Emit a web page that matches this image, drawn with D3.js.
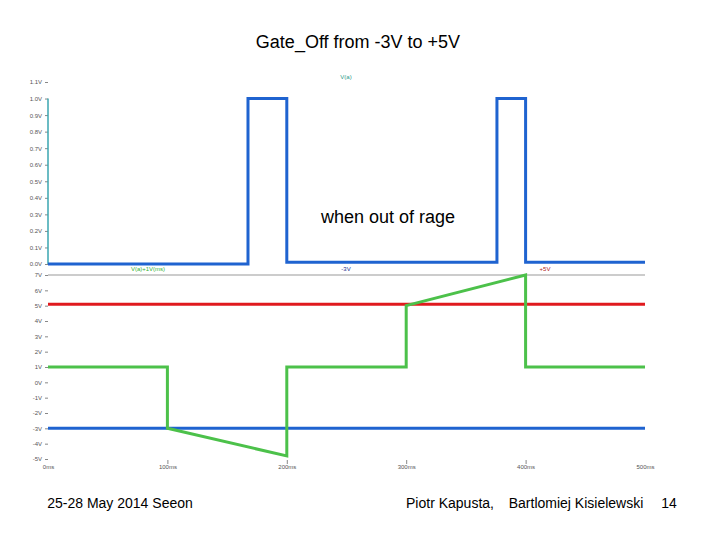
<!DOCTYPE html>
<html>
<head>
<meta charset="utf-8">
<script src="https://cdn.jsdelivr.net/npm/d3@7"></script>
<style>
  body { margin: 0; background: #fff; }
  text { font-family: "Liberation Sans", Arial, sans-serif; }
</style>
</head>
<body>
<div id="wrapper"></div>
<script>
// time axis (ms)
const timeTicks = [0, 100, 200, 300, 400, 500]
const topTicks = [1.1, 1.0, 0.9, 0.8, 0.7, 0.6, 0.5, 0.4, 0.3, 0.2, 0.1, 0.0]
const botTicks = [7, 6, 5, 4, 3, 2, 1, 0, -1, -2, -3, -4, -5]

// top pane: V(a)
const topTime = [0, 167.5, 167.5, 200, 200, 376, 376, 400, 400, 500]
const topVolt = [0, 0, 1, 1, 0.01, 0.01, 1, 1, 0.01, 0.01]

// lower pane
const greenTime = [0, 100, 100, 200, 200, 300, 300, 400, 400, 500]
const greenVolt = [1, 1, -3, -4.8, 1, 1, 5, 7, 1, 1]
const redTime = [0, 500]
const redVolt = [5.1, 5.1]
const blueTime = [0, 500]
const blueVolt = [-3, -3]

const width = 720
const height = 540

const svg = d3.select("#wrapper")
    .append("svg")
    .attr("width", width)
    .attr("height", height)

const xScale = d3.scaleLinear().domain([0, 500]).range([48, 645])
const yTop = d3.scaleLinear().domain([0, 1.1]).range([264, 82])
const yBot = d3.scaleLinear().domain([-5, 7]).range([459, 275])

// title
svg.append("text")
    .attr("x", 358).attr("y", 48)
    .attr("text-anchor", "middle")
    .style("font-size", "18px")
    .text("Gate_Off from -3V to +5V")

// axes
const yTopAxis = svg.append("g")
    .attr("transform", "translate(48,0)")
    .call(d3.axisLeft(yTop).tickValues(topTicks).tickSize(3)
        .tickFormat(d => d3.format(".1f")(d) + "V"))
const yBotAxis = svg.append("g")
    .attr("transform", "translate(48,0)")
    .call(d3.axisLeft(yBot).tickValues(botTicks).tickSize(3)
        .tickFormat(d => d + "V"))
const xAxis = svg.append("g")
    .attr("transform", "translate(0,460)")
    .call(d3.axisBottom(xScale).tickValues(timeTicks).tickSize(4)
        .tickFormat(d => d + "ms"))

;[yTopAxis, yBotAxis, xAxis].forEach(a => {
    a.select(".domain").remove()
    a.selectAll(".tick line").attr("stroke", "#888")
    a.selectAll(".tick text")
        .attr("fill", "#555")
        .style("font-size", "6px")
})
xAxis.selectAll(".tick text").attr("dy", "0.3em")
xAxis.selectAll(".tick").filter(d => d === 0 || d === 500).select("line").remove()

// top pane axis line
svg.append("line")
    .attr("x1", 48).attr("x2", 48)
    .attr("y1", yTop(1.0)).attr("y2", yTop(0))
    .attr("stroke", "#3aa6b0").attr("stroke-width", 1.5)

// separator line between panes
svg.append("line")
    .attr("x1", 48).attr("x2", 645)
    .attr("y1", 275).attr("y2", 275)
    .attr("stroke", "#999").attr("stroke-width", 1)

function drawTrace(times, volts, yScale, color, w) {
    const pts = times.map((t, i) => [t, volts[i]])
    const line = d3.line()
        .x(d => xScale(d[0]))
        .y(d => yScale(d[1]))
    svg.append("path")
        .datum(pts)
        .attr("d", line)
        .attr("fill", "none")
        .attr("stroke", color)
        .attr("stroke-width", w)
        .attr("stroke-linejoin", "miter")
}

drawTrace(topTime, topVolt, yTop, "#1f63d0", 3)
drawTrace(redTime, redVolt, yBot, "#e01a1e", 3)
drawTrace(blueTime, blueVolt, yBot, "#1f63d0", 3)
drawTrace(greenTime, greenVolt, yBot, "#4cc14a", 3)

// trace labels
svg.append("text").attr("x", 346).attr("y", 79)
    .attr("text-anchor", "middle").attr("fill", "#2a9a8a")
    .style("font-size", "6px").text("V(a)")
svg.append("text").attr("x", 148).attr("y", 271)
    .attr("text-anchor", "middle").attr("fill", "#33b033")
    .style("font-size", "6px").text("V(a)+1V(ms)")
svg.append("text").attr("x", 346).attr("y", 271)
    .attr("text-anchor", "middle").attr("fill", "#1a2a90")
    .style("font-size", "6px").text("-3V")
svg.append("text").attr("x", 545).attr("y", 271)
    .attr("text-anchor", "middle").attr("fill", "#b02020")
    .style("font-size", "6px").text("+5V")

// annotation
svg.append("text")
    .attr("x", 388).attr("y", 223)
    .attr("text-anchor", "middle")
    .style("font-size", "18px")
    .text("when out of rage")

// footer
const footer = [
    ["25-28 May 2014 Seeon", 120],
    ["Piotr Kapusta,", 450],
    ["Bartlomiej Kisielewski", 576],
    ["14", 669],
]
footer.forEach(([t, x]) => {
    svg.append("text")
        .attr("x", x).attr("y", 508)
        .attr("text-anchor", "middle")
        .style("font-size", "14px")
        .text(t)
})
</script>
</body>
</html>
